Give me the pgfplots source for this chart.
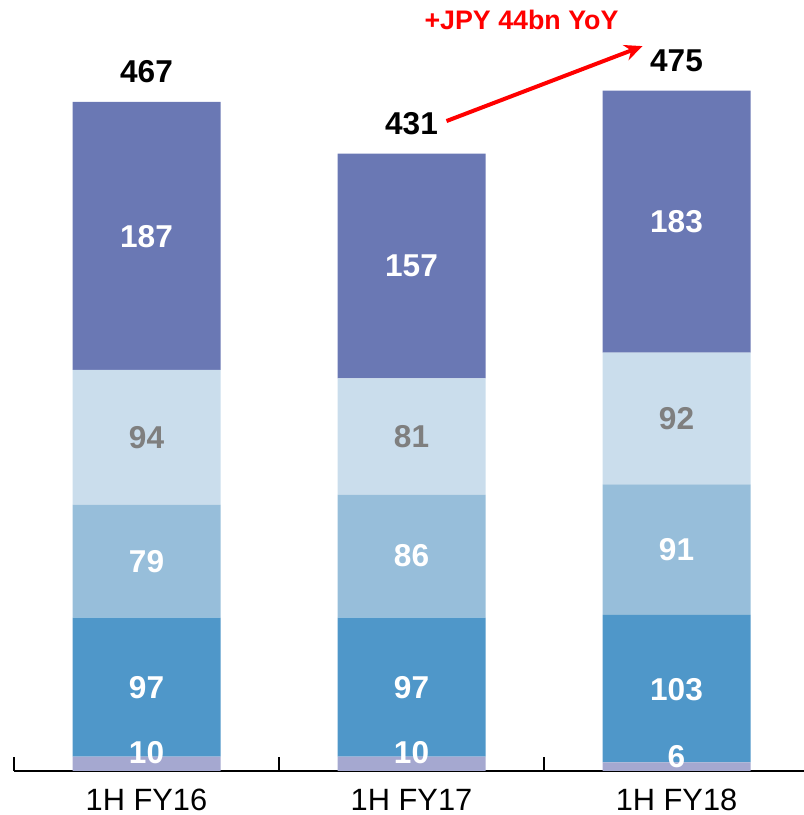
\documentclass[border=0pt]{standalone}
\usepackage{fontspec}
\setmainfont{Liberation Sans}
\usepackage{pgfplots}
\pgfplotsset{compat=1.18}
\usetikzlibrary{arrows.meta}

\definecolor{segA}{HTML}{A5A8D0}
\definecolor{segB}{HTML}{4F97C9}
\definecolor{segC}{HTML}{97BEDA}
\definecolor{segD}{HTML}{CADDEC}
\definecolor{segE}{HTML}{6A78B4}
\definecolor{lblgray}{HTML}{7F7F7F}
\definecolor{yoyred}{HTML}{FF0000}

\begin{document}
\begin{tikzpicture}
  \useasboundingbox (0,0) rectangle (402pt,407.5pt);
  \begin{axis}[
      at={(7pt,22pt)}, anchor=south west,
      scale only axis,
      width=395pt, height=385.5pt,
      xmin=-0.5, xmax=2.481,
      ymin=0, ymax=538.2,
      ybar stacked, bar width=74pt,
      axis x line*=bottom,
      axis y line=none,
      axis line style={line width=1pt, black},
      xtick={0,1,2},
      xticklabels={1H FY16, 1H FY17, 1H FY18},
      major tick length=0pt,
      xticklabel style={font=\fontsize{15.4}{18}\selectfont, yshift=-5.6pt},
      extra x ticks={-0.5,0.5,1.5},
      extra x tick labels={},
      extra x tick style={major tick length=7pt, tick align=inside,
        major tick style={line width=0.8pt, black}},
      clip=false,
    ]
    \addplot[draw=none, fill=segA] coordinates {(0,10) (1,10) (2,6)};
    \addplot[draw=none, fill=segB] coordinates {(0,97) (1,97) (2,103)};
    \addplot[draw=none, fill=segC] coordinates {(0,79) (1,86) (2,91)};
    \addplot[draw=none, fill=segD] coordinates {(0,94) (1,81) (2,92)};
    \addplot[draw=none, fill=segE] coordinates {(0,187) (1,157) (2,183)};

    % label anchors, drawn after the axis so they sit above the bars
    \coordinate (a1) at (axis cs:0,12.6);
    \coordinate (a2) at (axis cs:0,58);
    \coordinate (a3) at (axis cs:0,146);
    \coordinate (a4) at (axis cs:0,233);
    \coordinate (a5) at (axis cs:0,373);
    \coordinate (b1) at (axis cs:1,12.6);
    \coordinate (b2) at (axis cs:1,58.5);
    \coordinate (b3) at (axis cs:1,150);
    \coordinate (b4) at (axis cs:1,233.5);
    \coordinate (b5) at (axis cs:1,352.5);
    \coordinate (c1) at (axis cs:2,9.8);
    \coordinate (c2) at (axis cs:2,57);
    \coordinate (c3) at (axis cs:2,154.5);
    \coordinate (c4) at (axis cs:2,246);
    \coordinate (c5) at (axis cs:2,383.5);
    \coordinate (ta) at (axis cs:0,488);
    \coordinate (tb) at (axis cs:1,451.6);
    \coordinate (tc) at (axis cs:2,496);
    \coordinate (arr0) at (axis cs:1.132,453.7);
    \coordinate (arr1) at (axis cs:1.872,506);
    \coordinate (yoy) at (axis cs:1.415,524.2);
  \end{axis}

  \tikzset{lbl/.style={font=\bfseries\fontsize{15.8}{18}\selectfont, inner sep=0pt}}
  \node[lbl, white]   at (a1) {10};
  \node[lbl, white]   at (a2) {97};
  \node[lbl, white]   at (a3) {79};
  \node[lbl, lblgray] at (a4) {94};
  \node[lbl, white]   at (a5) {187};
  \node[lbl, white]   at (b1) {10};
  \node[lbl, white]   at (b2) {97};
  \node[lbl, white]   at (b3) {86};
  \node[lbl, lblgray] at (b4) {81};
  \node[lbl, white]   at (b5) {157};
  \node[lbl, white]   at (c1) {6};
  \node[lbl, white]   at (c2) {103};
  \node[lbl, white]   at (c3) {91};
  \node[lbl, lblgray] at (c4) {92};
  \node[lbl, white]   at (c5) {183};
  \node[lbl, black] at (ta) {467};
  \node[lbl, black] at (tb) {431};
  \node[lbl, black] at (tc) {475};
  \draw[yoyred, line width=2pt, -{Stealth[length=9pt, width=8pt]}] (arr0) -- (arr1);
  \node[font=\bfseries\fontsize{13.4}{16}\selectfont, text=yoyred, inner sep=0pt]
    at (yoy) {+JPY 44bn YoY};
\end{tikzpicture}
\end{document}
